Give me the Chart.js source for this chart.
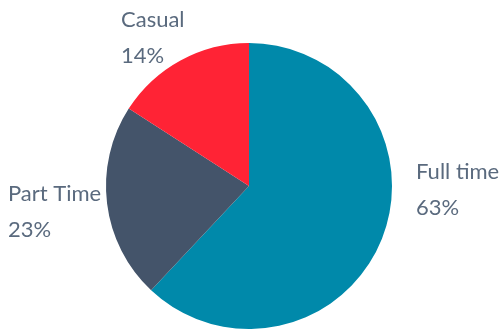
<!DOCTYPE html>
<html>
<head>
<meta charset="utf-8">
<script src="https://cdn.jsdelivr.net/npm/chart.js@4.4.1/dist/chart.umd.min.js"></script>
<style>
  html, body { margin: 0; padding: 0; background: #fff; }
  #wrap { width: 501px; height: 329px; position: relative; }
</style>
</head>
<body>
<div id="wrap"><canvas id="pieChart"></canvas></div>
<script>
  // data
  const categories = ['Full time', 'Part Time', 'Casual'];
  const sliceValues = [62.0, 22.1, 15.9];
  const pctLabels = ['63%', '23%', '14%'];
  const sliceColors = ['#0089AA', '#44546A', '#FF2335'];

  // label text anchors (left x, first baseline y)
  const labelPos = [[416, 179], [8, 201], [121, 27]];

  const labelPlugin = {
    id: 'sliceLabels',
    afterDraw(chart) {
      const ctx = chart.ctx;
      ctx.save();
      ctx.font = '22px Lato';
      ctx.fillStyle = '#5A6A7E';
      ctx.textAlign = 'left';
      ctx.textBaseline = 'alphabetic';
      categories.forEach((name, i) => {
        const [x, y] = labelPos[i];
        ctx.fillText(name, x, y);
        ctx.fillText(pctLabels[i], x, y + 36);
      });
      ctx.restore();
    }
  };

  new Chart(document.getElementById('pieChart'), {
    type: 'pie',
    data: {
      labels: categories,
      datasets: [{
        data: sliceValues,
        backgroundColor: sliceColors,
        borderWidth: 0
      }]
    },
    options: {
      responsive: true,
      maintainAspectRatio: false,
      animation: false,
      layout: { padding: { top: 43, bottom: 0, left: 0, right: 3 } },
      plugins: {
        legend: { display: false },
        tooltip: { enabled: false }
      }
    },
    plugins: [labelPlugin]
  });
</script>
</body>
</html>
